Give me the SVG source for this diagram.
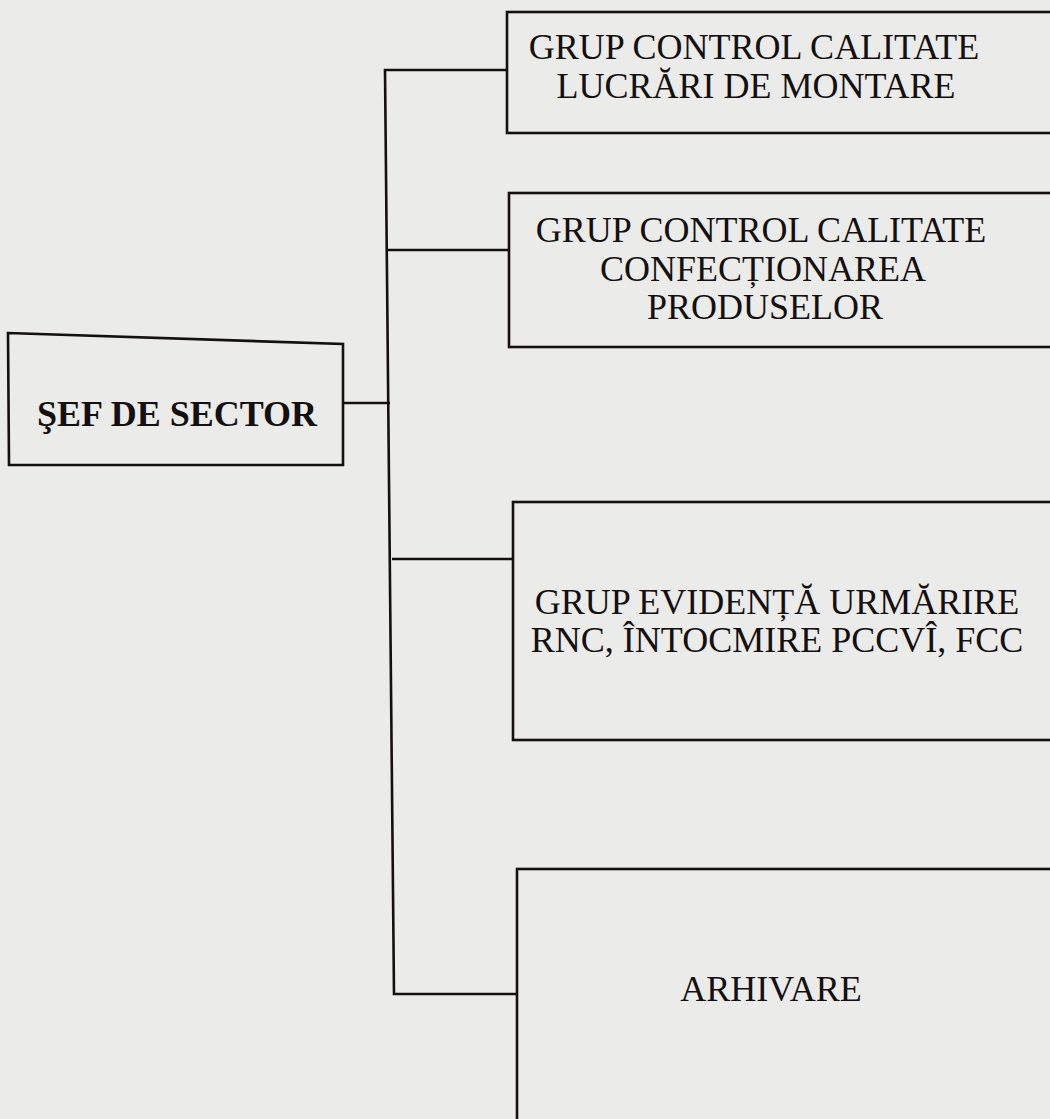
<svg xmlns="http://www.w3.org/2000/svg" width="1050" height="1119" viewBox="0 0 1050 1119">
<style>
.box{fill:none;stroke:#151010;stroke-width:2.6}
.conn{fill:none;stroke:#151010;stroke-width:2.6}
.t{font-family:"Liberation Serif","Times New Roman",serif;font-size:36px;fill:#141010;text-anchor:middle}
.b{font-weight:bold}
</style>
<rect width="1050" height="1119" fill="#ebebea"/>
<g id="connectors">
<path class="conn" d="M507,70 H385 L394,994 H517"/>
<path class="conn" d="M343,403 H390"/>
<path class="conn" d="M387,250 H509"/>
<path class="conn" d="M392,559 H513"/>
</g>
<g id="sef">
<path class="box" d="M8,333 L343,344 L343,465 L9,465 Z"/>
<text class="t b" x="177" y="426">ŞEF DE SECTOR</text>
</g>
<g id="grup-montare">
<rect class="box" x="507" y="12" width="560" height="121"/>
<text class="t" x="754" y="59">GRUP CONTROL CALITATE</text>
<text class="t" x="756" y="98">LUCRĂRI DE MONTARE</text>
</g>
<g id="grup-confectionare">
<rect class="box" x="509" y="193" width="560" height="154"/>
<text class="t" x="761" y="242">GRUP CONTROL CALITATE</text>
<text class="t" x="763" y="281">CONFECȚIONAREA</text>
<text class="t" x="765" y="319">PRODUSELOR</text>
</g>
<g id="grup-evidenta">
<rect class="box" x="513" y="502" width="560" height="238"/>
<text class="t" x="777" y="614">GRUP EVIDENȚĂ URMĂRIRE</text>
<text class="t" x="777" y="652">RNC, ÎNTOCMIRE PCCVÎ, FCC</text>
</g>
<g id="arhivare">
<rect class="box" x="517" y="869" width="560" height="280"/>
<text class="t" x="771" y="1001">ARHIVARE</text>
</g>
</svg>
